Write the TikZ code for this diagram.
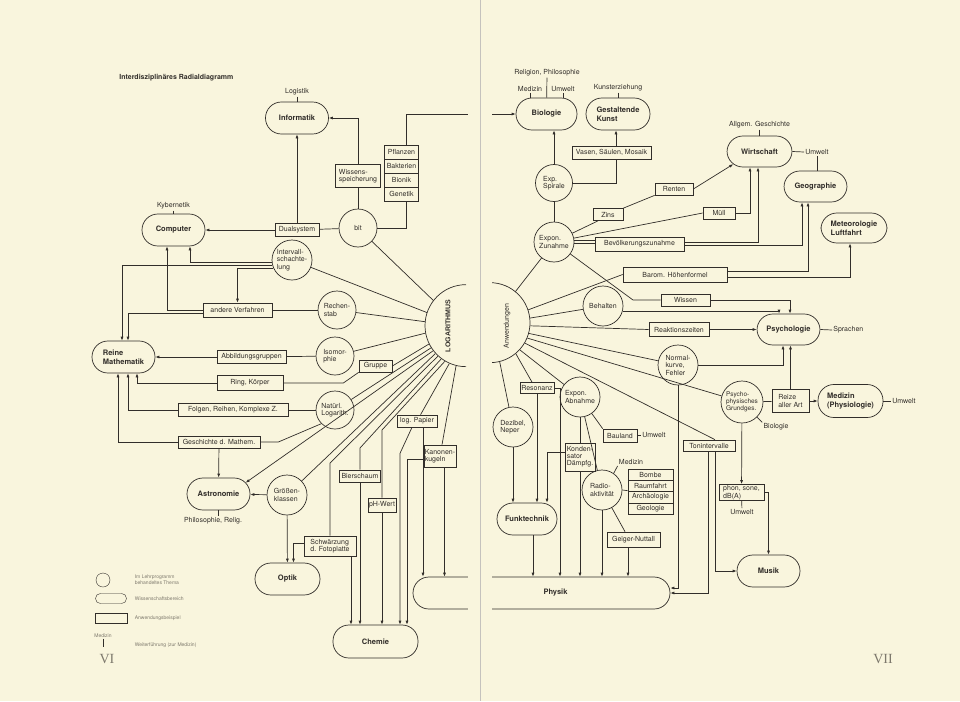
\documentclass[tikz,border=0pt]{standalone}
\usepackage{fontspec}
\setmainfont{TeX Gyre Heros}
\newfontfamily\seitenziffer{Liberation Serif}
\newfontfamily\kopfschrift{Liberation Sans}
\usetikzlibrary{arrows.meta}
\definecolor{papier}{RGB}{249,245,221}
\definecolor{tinte}{RGB}{50,46,42}
\definecolor{blass}{RGB}{125,120,108}

\begin{document}
\begin{tikzpicture}[x=1pt,y=-1pt,color=tinte,line width=0.7pt,
  >={Latex[length=4pt,width=3pt]},
  thema/.style={draw,circle,minimum size=40pt,inner sep=0pt,align=left,font=\fontsize{7}{7.5}\selectfont},
  bereich/.style={draw,rounded corners=15.9pt,minimum width=63pt,minimum height=32pt,inner sep=1pt,align=left,font=\fontsize{7.5}{9}\selectfont\bfseries},
  beispiel/.style={draw,inner sep=1pt,minimum height=12pt,align=left,font=\fontsize{7}{7.5}\selectfont},
  notiz/.style={inner sep=1pt,font=\fontsize{7}{8}\selectfont},
  legende/.style={inner sep=0.5pt,anchor=west,align=left,text=blass,font=\fontsize{5}{6}\selectfont}]
\fill[papier] (0,0) rectangle (960,701);
\useasboundingbox (0,0) rectangle (960,701);

% linke Seite
\node[anchor=west,inner sep=0pt,font=\fontsize{7}{8}\selectfont\bfseries] (titel) at (119,78) {Interdisziplinäres Radialdiagramm};

\node[circle,minimum size=82pt,inner sep=0pt] (logar) at (466,326) {};
\draw (logar.north) arc[start angle=90,end angle=270,radius=41pt];
\node[rotate=90,inner sep=0pt,font=\kopfschrift\fontsize{7}{8}\selectfont\bfseries] (logtext) at (448,326) {LOGARITHMUS};

\node[bereich] (inf) at (297,118) {Informatik};
\node[notiz] (logistik) at (297,92) {Logistik};
\node[beispiel,minimum width=45pt,minimum height=23pt] (wiss) at (358,176) {Wissens-\\speicherung};
\node[thema,minimum size=38pt] (bit) at (358,228) {bit};
\node[beispiel,minimum width=34pt,minimum height=14pt] (pfl) at (401.5,152) {Pflanzen};
\node[beispiel,minimum width=34pt,minimum height=14pt] (bak) at (401.5,166) {Bakterien};
\node[beispiel,minimum width=34pt,minimum height=14pt] (bion) at (401.5,180) {Bionik};
\node[beispiel,minimum width=34pt,minimum height=14pt] (gen) at (401.5,194) {Genetik};
\node[beispiel,minimum width=44pt,minimum height=13pt] (dual) at (297,230) {Dualsystem};
\node[bereich] (comp) at (173.5,230) {Computer};
\node[notiz] (kybern) at (173.5,206) {Kybernetik};
\node[thema] (interv) at (292,260) {Intervall-\\schachte-\\lung};
\node[beispiel,minimum width=69pt,minimum height=14pt] (andere) at (237.5,310) {andere Verfahren};
\node[thema,minimum size=38pt] (rech) at (337,310) {Rechen-\\stab};
\node[bereich] (reine) at (123.5,357) {Reine\\Mathematik};
\node[beispiel,minimum width=69pt,minimum height=13pt] (abb) at (251.5,357) {Abbildungsgruppen};
\node[thema,minimum size=38pt] (iso) at (335,356) {Isomor-\\phie};
\node[beispiel,minimum width=33pt] (gruppe) at (375.5,366) {Gruppe};
\node[beispiel,minimum width=66pt,minimum height=15pt] (ring) at (250,383) {Ring, Körper};
\node[beispiel,minimum width=110pt,minimum height=13pt] (folgen) at (233,410) {Folgen, Reihen, Komplexe Z.};
\node[thema,minimum size=38pt] (nat) at (335,410) {Natürl.\\Logarith.};
\node[beispiel,minimum width=82pt] (gesch) at (219,442) {Geschichte d. Mathem.};
\node[bereich] (astro) at (218.5,494) {Astronomie};
\node[notiz] (philrel) at (213,521) {Philosophie, Relig.};
\node[thema] (groe) at (287,495) {Größen-\\klassen};
\node[bereich,minimum width=65pt] (optik) at (287.5,579) {Optik};
\node[beispiel,minimum width=52pt,minimum height=20pt] (schw) at (330,546) {Schwärzung\\d. Fotoplatte};
\node[beispiel,minimum width=41pt] (bier) at (360,476) {Bierschaum};
\node[beispiel,minimum width=28pt,minimum height=14pt] (ph) at (382,505) {pH-Wert};
\node[beispiel,minimum width=40pt] (logp) at (417,421) {log. Papier};
\node[beispiel,minimum width=29pt,minimum height=22pt] (kan) at (440,456) {Kanonen-\\kugeln};
\node[bereich,minimum width=85pt,minimum height=33pt] (chemie) at (375.5,641.5) {Chemie};
\node[bereich,minimum width=257pt] (physik) at (541.5,593) {\hspace*{28pt}Physik};

\draw (logistik) -- (inf);
\draw[->] (wiss.north) |- (inf.east);
\draw (bit) -- (wiss);
\draw (bit.east) -| ([xshift=5pt]gen.south);
\draw (bit) -- (dual);
\draw[->] (dual) -- (inf);
\draw[->] (dual) -- (comp);
\draw (kybern) -- (comp);
\draw[->] (interv.188) -| ([xshift=16.5pt]comp.south);
\draw[->] (interv.196) -| ([xshift=-1.5pt]reine.north);
\draw[->] (interv.203) -| (andere.north);
\draw (andere) -- (rech);
\draw[->] (andere.west) -| ([xshift=-6.5pt]comp.south);
\draw[->] ([yshift=-3pt]andere.west) -| ([xshift=4.5pt]reine.north);
\draw[->] (abb) -- (reine);
\draw (abb) -- (iso);
\draw[->] (ring.west) -| ([xshift=13.5pt]reine.south);
\draw (ring.east) -- ++(60,0) -- (gruppe.south west);
\draw[->] (folgen.west) -| ([xshift=4.5pt]reine.south);
\draw (folgen) -- (nat);
\draw[->] (gesch.west) -| ([xshift=-5.5pt]reine.south);
\draw (gesch.east) -- ++(18,0) -- (nat.225);
\draw[->] (gesch) -- (astro);
\draw (astro.south) -- (astro.south |- philrel.north);
\draw[->] (groe) -- (astro);
\draw[->] (groe) -- (optik);
\draw[->] ([yshift=3pt]schw.west) -| ([xshift=6pt]optik.north);
\draw[->] ([xshift=21pt]schw.south) -- ([xshift=-24.5pt]chemie.north);
\draw[->] (bier) -- ([xshift=-15.5pt]chemie.north);
\draw[->] (ph) -- ([xshift=6.5pt]chemie.north);
\draw[->] ([xshift=-5pt]logp.south) -- ++(-12,26) -- ([xshift=24.5pt]chemie.north);
\draw[->] ([xshift=6pt]logp.south) -- ([xshift=-118.5pt]physik.north);
\draw[->] ([yshift=-3pt]kan.west) -| ([xshift=31.5pt]chemie.north);
\draw[->] ([xshift=4.5pt]kan.south) -- ([xshift=-97pt]physik.north);

% Strahlen vom Logarithmus
\draw (bit) -- (logar.142);
\draw (interv) -- (logar.161);
\draw (rech) -- (logar.174);
\draw (iso) -- (logar.190);
\draw (gruppe.east) -- (logar.206);
\draw (nat) -- (logar.212);
\draw[->] (logar.217) -- ([xshift=-4.7pt,yshift=11.3pt]astro.east);
\draw (logar.222) -- (groe);
\coordinate (schwknick) at (330,463);
\draw (logar.227) -- (schwknick) -- (schw);
\coordinate (bierknick) at (360,448);
\draw (logar.233) -- (bierknick) -- (bier);
\coordinate (phknick) at (382,430);
\draw (logar.239) -- (phknick) -- (ph);
\draw (logar.246) -- (logp);
\draw (logar.256) -- (kan);

% Legende
\node[circle,draw,minimum size=14pt,inner sep=0pt,line width=0.4pt] (lgkreis) at (103,580) {};
\node[draw,rounded corners=4.9pt,minimum width=31pt,minimum height=10pt,inner sep=0pt,line width=0.4pt] (lgoval) at (111,598.5) {};
\node[draw,minimum width=32pt,minimum height=10pt,inner sep=0pt,line width=0.4pt] (lgbox) at (111,618) {};
\node[legende,anchor=center] (lgmed) at (103,636) {Medizin};
\draw[line width=0.4pt] (lgmed.south) -- ++(0,8);
\node[legende] (lgtext1) at (134,580) {Im Lehrprogramm\\behandeltes Thema};
\node[legende] (lgtext2) at (134,599) {Wissenschaftsbereich};
\node[legende] (lgtext3) at (134,618) {Anwendungsbeispiel};
\node[legende] (lgtext4) at (134,645) {Weiterführung (zur Medizin)};
\node[text=blass,font=\seitenziffer\fontsize{14}{14}\selectfont] (seite6) at (107,659) {VI};

% rechte Seite
\node[circle,minimum size=80pt,inner sep=0pt] (anwend) at (490,323) {};
\draw (anwend.north) arc[start angle=90,end angle=-90,radius=40pt];
\node[rotate=90,inner sep=0pt,font=\fontsize{7}{8}\selectfont] (anwtext) at (507,326) {Anwendungen};

\node[bereich,minimum width=61pt] (bio) at (546.5,114) {Biologie};
\node[notiz] (religion) at (547,73) {Religion, Philosophie};
\node[notiz] (medbio) at (530,89) {Medizin};
\node[notiz] (umwbio) at (563,89) {Umwelt};
\node[bereich,minimum width=64pt] (kunst) at (618,114) {Gestaltende\\Kunst};
\node[notiz] (kunsterz) at (618,88) {Kunsterziehung};
\node[beispiel,minimum width=79pt,minimum height=13pt] (vasen) at (611.5,152.5) {Vasen, Säulen, Mosaik};
\node[thema,minimum size=37pt] (spir) at (554,183) {Exp.\\Spirale};
\node[thema] (zun) at (554,242) {Expon.\\Zunahme};
\node[beispiel,minimum width=30pt] (zins) at (608,214.5) {Zins};
\node[beispiel,minimum width=38pt] (renten) at (674,189) {Renten};
\node[bereich,minimum width=65pt,minimum height=31pt] (wirt) at (759.5,151.5) {Wirtschaft};
\node[notiz] (allgem) at (759.5,125) {Allgem. Geschichte};
\node[notiz,anchor=west] (umwwirt) at (804,152) {Umwelt};
\node[bereich,minimum height=31pt] (geo) at (815.5,186.5) {Geographie};
\node[bereich,minimum width=66pt,minimum height=30pt] (met) at (854,228) {Meteorologie\\Luftfahrt};
\node[beispiel,minimum width=32pt] (muell) at (719,213) {Müll};
\node[beispiel,minimum width=89pt,minimum height=14pt] (bev) at (639.5,244) {Bevölkerungszunahme};
\node[beispiel,minimum width=104pt,minimum height=15pt] (barom) at (675,274.5) {Barom. Höhenformel};
\node[beispiel,minimum width=49pt] (wissen) at (685.5,300) {Wissen};
\node[thema] (behalt) at (603,306) {Behalten};
\node[beispiel,minimum width=60pt,minimum height=14pt] (reakt) at (679,329.5) {Reaktionszeiten};
\node[bereich,minimum height=31pt] (psych) at (788.5,329.5) {Psychologie};
\node[notiz,anchor=west] (sprachen) at (832,330) {Sprachen};
\node[thema] (normal) at (678,365) {Normal-\\kurve,\\Fehler};
\node[thema,minimum size=42pt,font=\fontsize{6.5}{7}\selectfont] (psycho) at (742,402) {Psycho-\\physisches\\Grundges.};
\node[beispiel,minimum width=37pt,minimum height=23pt] (reize) at (790.5,401) {Reize\\aller Art};
\node[bereich,minimum width=65pt,minimum height=33pt] (med) at (850.5,401) {Medizin\\(Physiologie)};
\node[notiz,anchor=west] (umwmed) at (891,401) {Umwelt};
\node[notiz] (biolpsy) at (776,427) {Biologie};
\node[beispiel,minimum width=52pt,minimum height=11pt] (tonint) at (709,445.5) {Tonintervalle};
\node[beispiel,minimum width=45pt,minimum height=15pt] (phon) at (741.5,492.5) {phon, sone,\\dB(A)};
\node[notiz] (umwphon) at (742,512) {Umwelt};
\node[bereich] (musik) at (768.5,571) {Musik};
\node[beispiel,minimum width=34pt,minimum height=11pt] (reson) at (537,388) {Resonanz};
\node[thema] (dezi) at (513,427) {Dezibel,\\Neper};
\node[thema] (abn) at (580,397) {Expon.\\Abnahme};
\node[beispiel,minimum width=30pt,minimum height=28pt,font=\fontsize{7}{7}\selectfont] (kond) at (580,457) {Konden-\\sator\\Dämpfg.};
\node[beispiel,minimum width=34pt,minimum height=13pt] (bau) at (620,435.5) {Bauland};
\node[notiz,anchor=west] (umwbau) at (641,435.5) {Umwelt};
\node[thema] (radio) at (602,490) {Radio-\\aktivität};
\node[notiz] (medradio) at (631,462) {Medizin};
\node[beispiel,minimum width=45pt,minimum height=11pt] (bombe) at (650.5,474.5) {Bombe};
\node[beispiel,minimum width=45pt,minimum height=11pt] (raum) at (650.5,485.5) {Raumfahrt};
\node[beispiel,minimum width=45pt,minimum height=12pt] (arch) at (650.5,497) {Archäologie};
\node[beispiel,minimum width=45pt,minimum height=11pt] (geol) at (650.5,508.5) {Geologie};
\node[beispiel,minimum width=53pt,minimum height=15pt] (geiger) at (633.5,539.5) {Geiger-Nuttall};
\node[bereich,minimum width=60pt] (funk) at (527,519) {Funktechnik};
\node[text=blass,font=\seitenziffer\fontsize{14}{14}\selectfont] (seite7) at (883,659) {VII};

\draw[->] ([xshift=5pt]pfl.north) |- (bio.west);
\draw (religion) -- (bio);
\draw (medbio.south) -- (medbio.south |- bio.north);
\draw (umwbio.south) -- (umwbio.south |- bio.north);
\draw (kunsterz) -- (kunst);
\draw[->] ([xshift=4.5pt]vasen.north) -- ([xshift=-2pt]kunst.south);
\draw[->] (spir) -- (spir |- bio.south);
\draw (spir.east) -| ([xshift=4.5pt]vasen.south);
\draw (zun) -- (spir);
\draw (zun) -- ([xshift=-10pt]zins.south);
\draw (zins.north east) -- (renten.south west);
\draw[->] (renten.east) -- ([xshift=6.6pt,yshift=-12.7pt]wirt.west);
\draw (allgem) -- (wirt);
\draw (wirt.east) -- (umwwirt.west);
\draw (umwwirt.south) -- (umwwirt.south |- geo.north);
\draw (zun) -- (muell.west);
\draw[->] (muell.east) -| ([xshift=-9.5pt]wirt.south);
\draw (zun.6) -- (zun.6 -| bev.west);
\draw (zun.-3) -- (zun.-3 -| bev.west);
\draw[->] ([yshift=2pt]bev.east) -| ([xshift=-1.5pt]wirt.south);
\draw[->] ([yshift=-1pt]bev.east) -| ([xshift=-13.5pt]geo.south);
\draw[->] ([yshift=3pt]barom.east) -| ([xshift=-7.5pt]geo.south);
\draw[->] ([yshift=-3pt]barom.east) -| ([xshift=-4pt]met.south);
\coordinate (wissknick) at (633,300);
\draw (zun) -- (wissknick) -- (wissen.west);
\draw[->] (wissen.east) -| ([xshift=1.5pt]psych.north);
\draw[->] (behalt.-15) -| ([xshift=-9.5pt]psych.north);
\draw[->] (reakt) -- (psych);
\draw (psych.east) -- (sprachen.west);
\draw[->] (normal.east) -| ([xshift=-5.5pt]psych.south);
\draw[->] (normal.south) |- ([yshift=5pt]physik.east);
\draw (psycho) -- (reize);
\draw[->] (reize) -- (reize |- psych.south);
\draw[->] (reize) -- (med);
\draw (med.east) -- (umwmed.west);
\draw (psycho.-45) -- (biolpsy.north west);
\draw[->] (psycho) -- (phon);
\draw (phon) -- (umwphon);
\draw[->] (phon.east) -| (musik.north);
\draw[->] ([xshift=-1pt]tonint.south) |- (physik.east);
\draw[->] ([xshift=6pt]tonint.south) |- (musik.west);
\draw[->] (dezi) -- (dezi |- funk.north);
\draw[->] (reson) -- (reson |- funk.north);
\draw[->] (reson.east) -| ([xshift=18.5pt]physik.north);
\draw[->] ([yshift=5pt]kond.west) -| ([xshift=20pt]funk.north);
\draw[->] ([xshift=6pt]funk.south) -- ([xshift=-8.5pt]physik.north);
\draw (abn) -- (kond);
\draw[->] (kond) -- (kond |- physik.north);
\draw (abn) -- (radio);
\draw (abn) -- (bau.north west);
\draw (bau.east) -- (umwbau.west);
\draw (radio.55) -- (medradio.south west);
\draw (radio.east) -- (arch.north west);
\draw[->] (radio) -- (radio |- physik.north);
\draw (radio) -- ([xshift=-8.5pt]geiger.north);
\draw[->] ([xshift=-5.5pt]geiger.south) -- ([xshift=86.5pt]physik.north);

% Strahlen von den Anwendungen
\draw (anwend.51) -- (zun);
\draw (anwend.19) -- (barom.west);
\draw (anwend.7) -- (behalt);
\draw (anwend.-4) -- (reakt.west);
\draw (anwend.-15) -- (normal);
\draw (anwend.-22) -- (psycho);
\draw (anwend.-30) -- ([xshift=6pt]tonint.north);
\draw (anwend.-42) -- (abn);
\draw (anwend.-50) -- ([xshift=-5pt]reson.north);
\draw (anwend.-76) -- (dezi);

% Falz
\fill[papier] (468,0) rectangle (492,701);
\draw[blass!45,line width=0.5pt] (480,0) -- (480,701);
\end{tikzpicture}
\end{document}
